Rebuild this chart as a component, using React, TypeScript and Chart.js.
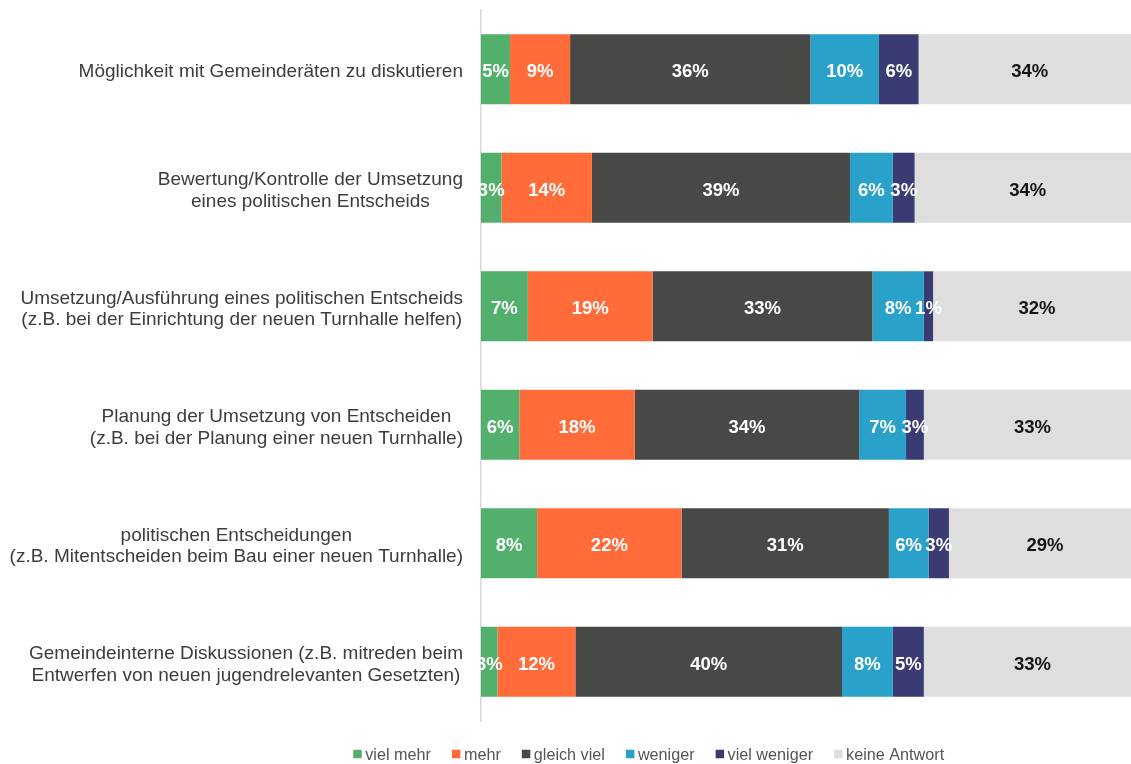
import React, { useEffect, useRef } from "react";
import { Chart, registerables } from "chart.js";

Chart.register(...registerables);

// ---- Data ----
const categories: string[][] = [
  ["Möglichkeit mit Gemeinderäten zu diskutieren"],
  ["Bewertung/Kontrolle der Umsetzung", "eines politischen Entscheids"],
  ["Umsetzung/Ausführung eines politischen Entscheids", "(z.B. bei der Einrichtung der neuen Turnhalle helfen)"],
  ["Planung der Umsetzung von Entscheiden", "(z.B. bei der Planung einer neuen Turnhalle)"],
  ["politischen Entscheidungen", "(z.B. Mitentscheiden beim Bau einer neuen Turnhalle)"],
  ["Gemeindeinterne Diskussionen (z.B. mitreden beim", "Entwerfen von neuen jugendrelevanten Gesetzten)"],
];

const seriesNames = ["viel mehr", "mehr", "gleich viel", "weniger", "viel weniger", "keine Antwort"];
const seriesColors = ["#52b06c", "#ff6c3a", "#484846", "#2aa1c9", "#3b3b74", "#dedede"];

// bar values (percent, as drawn)
const vielMehr = [4.4, 3.1, 7.1, 5.8, 8.5, 2.5];
const mehr = [9.1, 13.7, 18.9, 17.5, 21.9, 11.8];
const gleichViel = [36.4, 39.1, 33.3, 34.0, 31.4, 40.4];
const weniger = [10.4, 6.5, 7.8, 7.1, 6.0, 7.7];
const vielWeniger = [6.0, 3.3, 1.4, 2.7, 3.1, 4.7];
const keineAntwort = [33.7, 34.3, 31.5, 32.9, 29.1, 32.9];

// printed labels
const vielMehrLabels = [5, 3, 7, 6, 8, 3];
const mehrLabels = [9, 14, 19, 18, 22, 12];
const gleichVielLabels = [36, 39, 33, 34, 31, 40];
const wenigerLabels = [10, 6, 8, 7, 6, 8];
const vielWenigerLabels = [6, 3, 1, 3, 3, 5];
const keineAntwortLabels = [34, 34, 32, 33, 29, 33];

const FONT = '"Liberation Sans", Arial, Helvetica, sans-serif';

export default function App() {
  const ref = useRef<HTMLCanvasElement>(null);

  useEffect(() => {
    if (!ref.current) return;
    const values = [vielMehr, mehr, gleichViel, weniger, vielWeniger, keineAntwort];
    const printed = [vielMehrLabels, mehrLabels, gleichVielLabels, wenigerLabels, vielWenigerLabels, keineAntwortLabels];

    const textPlugin = {
      id: "customText",
      afterDatasetsDraw(chart: any) {
        const ctx: CanvasRenderingContext2D = chart.ctx;
        ctx.save();
        // bar value labels
        ctx.font = `bold 18.5px ${FONT}`;
        ctx.textAlign = "center";
        ctx.textBaseline = "middle";
        chart.data.datasets.forEach((_ds: any, d: number) => {
          const meta = chart.getDatasetMeta(d);
          meta.data.forEach((el: any, i: number) => {
            const p = el.getProps(["x", "base", "y"], true);
            ctx.fillStyle = d === 5 ? "#151515" : "#ffffff";
            ctx.fillText(printed[d][i] + "%", (p.x + p.base) / 2, p.y + 3);
          });
        });

        // category labels
        const yScale = chart.scales.y;
        const right = chart.chartArea.left - 18;
        ctx.font = `19px ${FONT}`;
        ctx.fillStyle = "#3d3d3d";
        const lh = 21.5;
        categories.forEach((lines, i) => {
          const yc = yScale.getPixelForValue(i);
          const maxW = Math.max(...lines.map((l) => ctx.measureText(l).width));
          const cx = right - maxW / 2;
          lines.forEach((l, k) => {
            ctx.fillText(l, cx, yc + 3 + (k - (lines.length - 1) / 2) * lh);
          });
        });

        // legend
        ctx.font = `16.2px ${FONT}`;
        ctx.textAlign = "left";
        const box = 8.5;
        const gapBox = 3.5;
        const gapItem = 21;
        const widths = seriesNames.map((n) => ctx.measureText(n).width);
        const total =
          widths.reduce((a, b) => a + b, 0) + seriesNames.length * (box + gapBox) + (seriesNames.length - 1) * gapItem;
        let x = 648.7 - total / 2;
        const ly = 754.5;
        seriesNames.forEach((n, k) => {
          ctx.fillStyle = seriesColors[k];
          ctx.fillRect(x, ly - box / 2 - 0.5, box, box);
          x += box + gapBox;
          ctx.fillStyle = "#555555";
          ctx.fillText(n, x, ly + 1);
          x += widths[k] + gapItem;
        });
        ctx.restore();
      },
    };

    const chart = new Chart(ref.current, {
      type: "bar",
      data: {
        labels: categories.map((c) => c.join(" ")),
        datasets: seriesNames.map((name, k) => ({
          label: name,
          data: values[k],
          backgroundColor: seriesColors[k],
          borderWidth: 0,
          barPercentage: 0.59,
          categoryPercentage: 1,
        })),
      },
      options: {
        indexAxis: "y",
        responsive: false,
        animation: false,
        devicePixelRatio: 1,
        layout: { padding: { left: 481, right: 19, top: 10, bottom: 43 } },
        plugins: { legend: { display: false }, tooltip: { enabled: false } },
        scales: {
          x: { stacked: true, min: 0, max: 100, display: false },
          y: {
            stacked: true,
            ticks: { display: false },
            grid: { display: false, drawTicks: false },
            border: { display: true, color: "#d9d9d9", width: 1.5 },
          },
        },
      },
      plugins: [textPlugin],
    } as any);

    return () => chart.destroy();
  }, []);

  return (
    <div
      style={{
        position: "absolute",
        left: 0,
        top: 0,
        width: 1131,
        height: 764,
        overflow: "hidden",
        background: "#ffffff",
      }}
    >
      <canvas ref={ref} width={1160} height={764} style={{ display: "block" }} />
    </div>
  );
}
